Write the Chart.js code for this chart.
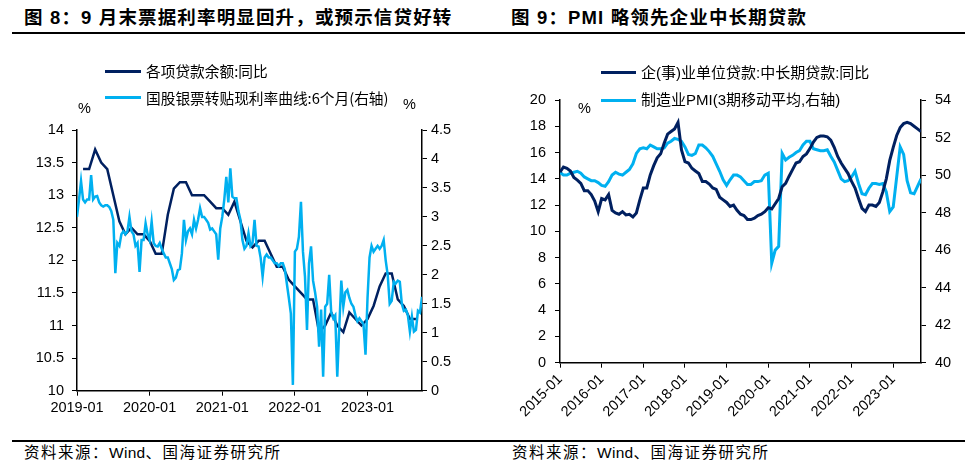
<!DOCTYPE html>
<html><head><meta charset="utf-8">
<script src="https://cdn.jsdelivr.net/npm/chart.js@4.4.0/dist/chart.umd.min.js"></script>
<style>
body{margin:0;background:#fff;width:976px;height:475px;overflow:hidden;position:relative;font-family:"Noto Sans CJK SC",sans-serif;color:#000;}
.abs{position:absolute;white-space:nowrap;}
.title{font-family:"Liberation Sans","Noto Sans CJK SC",sans-serif;font-weight:bold;font-size:18.5px;line-height:20px;letter-spacing:1.15px;}
.leg{font-family:"Noto Sans CJK SC",sans-serif;font-size:14.7px;line-height:18px;}
.legr{font-family:"Liberation Sans","Noto Sans CJK SC",sans-serif;font-size:15px;line-height:18px;}
.pct{font-family:"Liberation Sans",sans-serif;font-size:14.5px;line-height:18px;}
.src{font-family:"Liberation Sans","Noto Sans CJK SC",sans-serif;font-size:15.5px;line-height:18px;letter-spacing:1.5px;}
.src span{letter-spacing:0.3px;}
.sw{position:absolute;height:3px;}
canvas{position:absolute;top:0;}
</style></head><body>
<div class="abs title" style="left:24px;top:8px">图 8：9 月末票据利率明显回升，或预示信贷好转</div>
<div class="abs title" style="left:511px;top:8px">图 9：PMI 略领先企业中长期贷款</div>
<div class="abs" style="left:12px;top:32px;width:953px;height:1.5px;background:#000"></div>
<div class="abs" style="left:12px;top:440px;width:953px;height:1.5px;background:#000"></div>
<div class="abs src" style="left:24px;top:444px">资料来源：<span>Wind</span>、国海证券研究所</div>
<div class="abs src" style="left:512px;top:444px">资料来源：<span>Wind</span>、国海证券研究所</div>

<canvas id="c1" width="488" height="475" style="left:0"></canvas>
<canvas id="c2" width="488" height="475" style="left:488px"></canvas>

<div class="sw" style="left:105px;top:69.5px;width:36px;background:#002060"></div>
<div class="abs leg" style="left:146px;top:62px">各项贷款余额:同比</div>
<div class="sw" style="left:105px;top:96px;width:36px;background:#00b0f0"></div>
<div class="abs leg" style="left:146px;top:89px">国股银票转贴现利率曲线:6个月(右轴)</div>
<div class="abs pct" style="left:78px;top:99px">%</div>
<div class="abs pct" style="left:403px;top:95px">%</div>

<div class="sw" style="left:601px;top:71px;width:35px;background:#002060"></div>
<div class="abs legr" style="left:641px;top:63.5px">企(事)业单位贷款:中长期贷款:同比</div>
<div class="sw" style="left:601px;top:99px;width:35px;background:#00b0f0"></div>
<div class="abs legr" style="left:641px;top:91px">制造业PMI(3期移动平均,右轴)</div>
<div class="abs pct" style="left:578px;top:99px">%</div>

<script>
// ---------- Figure 8 data ----------
const leftXTicks = ['2019-01','2020-01','2021-01','2022-01','2023-01'];
const loanMonths = [
 '2019-01','2019-02','2019-03','2019-04','2019-05','2019-06','2019-07','2019-08','2019-09','2019-10','2019-11','2019-12',
 '2020-01','2020-02','2020-03','2020-04','2020-05','2020-06','2020-07','2020-08','2020-09','2020-10','2020-11','2020-12',
 '2021-01','2021-02','2021-03','2021-04','2021-05','2021-06','2021-07','2021-08','2021-09','2021-10','2021-11','2021-12',
 '2022-01','2022-02','2022-03','2022-04','2022-05','2022-06','2022-07','2022-08','2022-09','2022-10','2022-11','2022-12',
 '2023-01','2023-02','2023-03','2023-04','2023-05','2023-06','2023-07','2023-08'];
const loanYoY = [
 13.4,13.4,13.7,13.5,13.4,13.0,12.6,12.4,12.5,12.4,12.4,12.3,
 12.1,12.1,12.7,13.1,13.2,13.2,13.0,13.0,13.0,12.9,12.8,12.8,
 12.7,12.9,12.6,12.3,12.2,12.3,12.3,12.1,11.9,11.9,11.7,11.6,
 11.5,11.4,11.4,10.9,11.0,11.2,11.0,10.9,11.2,11.1,11.0,11.1,
 11.3,11.6,11.8,11.8,11.4,11.3,11.1,11.1];
// 6M bill rediscount rate, sampled every ten days (3 per month) from 2019-01
const billStart = '2019-01';
const billRate = [
 3.0,3.3,3.62, 3.3,3.25,3.3, 3.3,3.72,3.3, 3.35,3.36,3.25, 3.2,3.18,3.2, 3.2,3.17,3.1,
 2.95,2.03,2.55, 2.5,2.7,2.75, 2.7,2.75,3.0, 2.75,2.7,2.5, 2.55,2.05,2.6, 2.6,2.89,2.7,
 2.6,2.92,2.55, 2.5,2.49,2.55, 2.45,2.37,2.3, 2.3,2.2,2.1, 1.91,1.95,2.08, 2.1,2.37,2.95,
 2.6,2.75,2.8, 2.7,2.95,2.8, 2.95,3.15,3.0, 3.0,2.95,2.9, 2.78,2.8,2.75, 2.7,2.26,2.8,
 3.0,3.3,3.69, 3.25,3.84,3.35, 3.32,3.32,3.1, 2.95,2.6,2.45, 2.5,2.72,2.5, 2.55,2.95,2.5,
 2.49,2.3,1.97, 2.3,2.35,2.3, 2.3,2.25,2.2, 2.2,2.15,2.2, 2.2,2.1,1.85, 1.6,1.33,0.1,
 2.4,2.45,2.66, 3.26,2.4,1.97, 1.05,2.2,2.49, 1.9,1.7,1.45, 0.76,1.4,0.24, 1.45,1.5,2.0,
 1.35,1.25,1.3, 0.24,1.1,1.9, 1.45,1.7,1.74, 1.6,1.5,1.45, 1.3,1.2,1.25, 1.2,1.15,0.62,
 1.6,2.3,2.5, 2.4,2.45,2.5, 2.45,2.5,2.6, 2.25,2.0,1.5, 1.55,1.88,1.85, 1.9,1.88,1.5,
 1.38,1.4,1.3, 1.02,1.28,1.02, 1.05,1.38,1.35, 1.62];

// ---------- Figure 9 data ----------
const rightXTicks = ['2015-01','2016-01','2017-01','2018-01','2019-01','2020-01','2021-01','2022-01','2023-01'];
const rightStart = '2015-01';
const mltLoanYoY = [
 14.5,14.9,14.8,14.6,14.1,13.9,13.65,13.1,13.1,12.8,12.3,11.5,
 12.5,12.4,12.8,11.6,11.4,11.3,11.5,11.25,11.3,11.1,11.4,12.4,
 13.3,13.3,14.3,15.0,15.6,15.9,16.7,17.4,17.6,17.8,18.3,16.2,
 15.3,15.2,14.8,14.6,14.4,13.8,13.8,13.6,13.3,13.2,12.6,12.4,
 12.2,11.9,12.0,11.6,11.3,11.2,10.9,10.9,11.0,11.2,11.3,11.5,
 11.8,11.7,12.1,12.5,13.4,13.65,14.2,14.7,15.2,15.3,15.7,15.9,
 16.3,16.8,17.15,17.25,17.25,17.2,16.95,16.4,15.7,15.2,14.8,14.4,
 13.8,13.3,12.5,11.75,11.5,12.0,12.0,11.9,12.2,13.0,14.0,15.4,
 16.4,17.3,17.9,18.2,18.3,18.2,18.0,17.8,17.6];
const pmi3ma = [
 50.15,50.0,50.0,50.1,50.15,50.2,50.1,49.9,49.8,49.7,49.7,49.6,
 49.45,49.4,49.65,50.0,50.15,50.05,50.0,50.15,50.3,50.6,51.15,51.4,
 51.45,51.4,51.6,51.5,51.4,51.4,51.45,51.7,51.8,51.95,51.9,51.8,
 51.5,51.1,51.05,51.15,51.6,51.6,51.45,51.25,51.0,50.6,50.2,49.75,
 49.45,49.75,50.0,50.0,49.9,49.7,49.5,49.5,49.65,49.65,49.7,50.0,
 50.1,45.3,46.0,46.2,51.15,50.8,50.95,51.05,51.2,51.3,51.6,51.8,
 51.8,51.4,51.35,51.3,51.3,51.35,51.0,50.7,50.25,49.8,49.65,49.7,
 49.9,50.2,49.55,49.0,48.95,49.3,49.55,49.55,49.5,49.55,49.1,48.05,
 48.3,49.9,51.5,51.1,49.7,49.05,49.0,49.4,49.8];

// ---------- helpers ----------
function monthsSince(base, ym){
  const [by,bm]=base.split('-').map(Number), [y,m]=ym.split('-').map(Number);
  return (y-by)*12+(m-bm);
}
const BLACK='#000';
const NAVY='#002060', SKY='#00b0f0';
const tickFont={family:'"Liberation Sans", Arial, sans-serif', size:14.5};
const fmt = v => String(Math.round(v*10)/10);

function yAxis(pos, min, max, step, width, pad){
  return {
    type:'linear', position:pos, min:min, max:max,
    ticks:{stepSize:step, color:BLACK, font:tickFont, padding:pad, callback:fmt},
    grid:{drawOnChartArea:false, drawTicks:true, tickLength:5, color:BLACK, lineWidth:1},
    border:{display:true, color:BLACK, width:1.5},
    afterFit:function(s){ s.width=width; }
  };
}

// ---------- Figure 8 ----------
const leftLoanPts = loanYoY.map((v,i)=>({x:monthsSince('2019-01',loanMonths[i])+1, y:v}));
const leftBillPts = billRate.map((v,i)=>({x:monthsSince('2019-01',billStart)+i/3, y:v}));
new Chart(document.getElementById('c1'),{
  type:'line',
  data:{datasets:[
    {label:'国股银票转贴现利率曲线:6个月(右轴)', data:leftBillPts, yAxisID:'y2', borderColor:SKY, borderWidth:2.5, pointRadius:0, tension:0, order:0},
    {label:'各项贷款余额:同比', data:leftLoanPts, yAxisID:'y', borderColor:NAVY, borderWidth:2.5, pointRadius:0, tension:0, order:1}
  ]},
  options:{
    responsive:false, animation:false, devicePixelRatio:1,
    layout:{padding:{top:130,left:0,right:0,bottom:0}},
    plugins:{legend:{display:false}, tooltip:{enabled:false}},
    scales:{
      x:{type:'linear', min:0, max:57,
         afterBuildTicks:function(s){ s.ticks = leftXTicks.map(t=>({value:monthsSince('2019-01',t)})); },
         ticks:{color:BLACK, font:tickFont, padding:4, maxRotation:0, autoSkip:false,
                callback:function(v,i){ return leftXTicks[i]; }},
         grid:{drawOnChartArea:false, drawTicks:true, tickLength:5, color:BLACK, lineWidth:1},
         border:{display:true, color:BLACK, width:1.5},
         afterFit:function(s){ s.height=84.3; }},
      y:yAxis('left',10,14,0.5,77,8),
      y2:yAxis('right',0,4.5,0.5,66,4)
    }
  }
});

// ---------- Figure 9 ----------
const rightLoanPts = mltLoanYoY.map((v,i)=>({x:i, y:v}));
const rightPmiPts = pmi3ma.map((v,i)=>({x:i, y:v}));
new Chart(document.getElementById('c2'),{
  type:'line',
  data:{datasets:[
    {label:'企(事)业单位贷款:中长期贷款:同比', data:rightLoanPts, yAxisID:'y', borderColor:NAVY, borderWidth:3, pointRadius:0, tension:0, order:0},
    {label:'制造业PMI(3期移动平均,右轴)', data:rightPmiPts, yAxisID:'y2', borderColor:SKY, borderWidth:3, pointRadius:0, tension:0, order:1}
  ]},
  options:{
    responsive:false, animation:false, devicePixelRatio:1,
    layout:{padding:{top:100,left:0,right:0,bottom:0}},
    plugins:{legend:{display:false}, tooltip:{enabled:false}},
    scales:{
      x:{type:'linear', min:0, max:104,
         afterBuildTicks:function(s){ s.ticks = rightXTicks.map(t=>({value:monthsSince(rightStart,t)})); },
         ticks:{color:BLACK, font:tickFont, padding:3, minRotation:45, maxRotation:45, autoSkip:false,
                callback:function(v,i){ return rightXTicks[i]; }},
         grid:{drawOnChartArea:false, drawTicks:true, tickLength:5, color:BLACK, lineWidth:1},
         border:{display:true, color:BLACK, width:1.5},
         afterFit:function(s){ s.height=112.3; }},
      y:yAxis('left',0,20,2,72,9),
      y2:yAxis('right',40,54,2,55,9)
    }
  }
});
</script>
</body></html>
